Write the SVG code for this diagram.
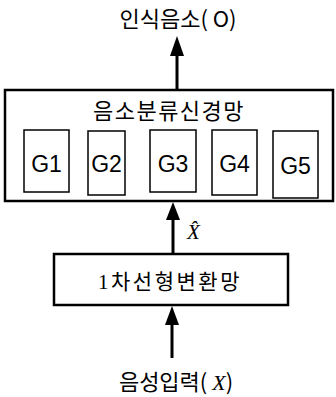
<svg xmlns="http://www.w3.org/2000/svg" width="336" height="397" viewBox="0 0 336 397">
  <style>
    .bg { fill: #ffffff; }
    .box { fill: #ffffff; stroke: #000000; stroke-width: 2.5; }
    .gbox { fill: #ffffff; stroke: #000000; stroke-width: 1.5; }
    .wire { stroke: #000000; stroke-width: 3; fill: none; }
    .head { fill: #000000; }
    .ko { font-family: "Noto Sans CJK KR", "Noto Sans", sans-serif; font-size: 22px; font-weight: normal; fill: #000000; text-anchor: middle; }
    .kos { font-family: "Liberation Serif", "Noto Sans CJK KR", serif; font-size: 21px; fill: #000000; text-anchor: middle; }
    .g { font-family: "Liberation Sans", Arial, sans-serif; font-size: 23px; fill: #000000; text-anchor: middle; }
    .var { font-family: "Liberation Serif", serif; font-style: italic; font-weight: normal; }
  </style>
  <rect class="bg" x="0" y="0" width="336" height="397"/>

  <!-- connectors -->
  <g id="connectors">
    <line class="wire" x1="177" y1="90" x2="177" y2="52"/>
    <polygon class="head" points="177,36 170,56 184,56"/>
    <line class="wire" x1="173" y1="254" x2="173" y2="215"/>
    <polygon class="head" points="173,202 166,220 180,220"/>
    <line class="wire" x1="172" y1="358" x2="172" y2="320"/>
    <polygon class="head" points="172,306 165,325 179,325"/>
    <text x="187" y="239" font-family="Liberation Serif, serif" font-style="italic" font-size="21" fill="#000">X&#770;</text>
  </g>

  <!-- output label -->
  <g id="output">
    <text class="ko" x="178" y="27">인식음소( O)</text>
  </g>

  <!-- phoneme classification network -->
  <g id="classifier">
    <rect class="box" x="5" y="90" width="328" height="111"/>
    <text class="ko" x="169" y="119" letter-spacing="1.5">음소분류신경망</text>
  </g>
  <g id="g1">
    <rect class="gbox" x="24" y="130" width="45" height="62"/>
    <text class="g" x="46.5" y="172">G1</text>
  </g>
  <g id="g2">
    <rect class="gbox" x="88" y="131" width="37" height="64"/>
    <text class="g" x="106.5" y="172">G2</text>
  </g>
  <g id="g3">
    <rect class="gbox" x="150" y="130" width="46" height="62"/>
    <text class="g" x="173" y="172">G3</text>
  </g>
  <g id="g4">
    <rect class="gbox" x="212" y="130" width="45" height="65"/>
    <text class="g" x="234.5" y="172">G4</text>
  </g>
  <g id="g5">
    <rect class="gbox" x="273" y="131" width="45" height="67"/>
    <text class="g" x="295.5" y="174">G5</text>
  </g>

  <!-- first-order linear transform network -->
  <g id="transform">
    <rect class="box" x="54" y="254" width="234" height="51"/>
    <text class="kos" x="170" y="289" letter-spacing="2.5">1차선형변환망</text>
  </g>

  <!-- speech input label -->
  <g id="input">
    <text class="ko" x="176" y="390">음성입력( <tspan class="var">X</tspan>)</text>
  </g>
</svg>
